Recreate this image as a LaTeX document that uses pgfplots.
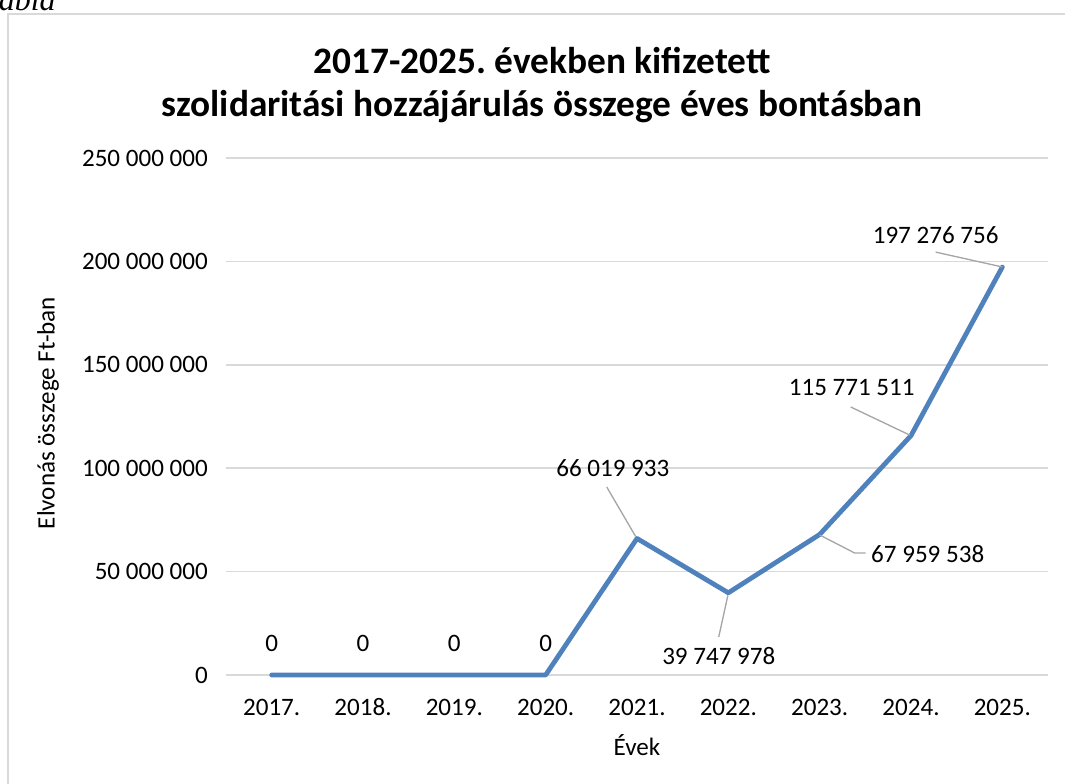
\documentclass[border=0pt]{standalone}
\usepackage{fontspec}
\setmainfont{Carlito}
\newfontfamily\serifit{Liberation Serif}
\usepackage{pgfplots}
\pgfplotsset{compat=1.18}
\definecolor{lineblue}{HTML}{4F81BD}
\definecolor{gridgray}{HTML}{D9D9D9}
\definecolor{leadergray}{HTML}{A6A6A6}
\newcommand\lbl{\fontsize{18.8}{22}\selectfont}
\frenchspacing
\begin{document}
\begin{tikzpicture}
\path[use as bounding box] (0,0) rectangle (798.75pt,-588pt);
\clip (0,0) rectangle (798.75pt,-588pt);
\begin{scope}[x=0.75pt,y=-0.75pt]
\draw[gridgray, line width=1.1pt] (8,14) rectangle (1085,800);
\node[anchor=base east, font=\serifit\itshape\fontsize{24}{28}\selectfont, inner sep=0] at (56,11) {tábla};
\node[anchor=base, font=\bfseries\fontsize{28}{33}\selectfont, inner sep=0] at (542,74) {2017-2025. években kifizetett};
\node[anchor=base, font=\bfseries\fontsize{28}{33}\selectfont, inner sep=0] at (542,117) {szolidaritási hozzájárulás összege éves bontásban};
\node[rotate=90, font=\lbl, inner sep=0] at (48,413) {Elvonás összege Ft-ban};
\node[font=\lbl, inner sep=0] at (637,745) {Évek};
\end{scope}
\begin{axis}[
  at={(169.5pt,-506.25pt)}, anchor=south west,
  scale only axis, width=616.5pt, height=387.75pt,
  xmin=-0.5, xmax=8.5, ymin=0, ymax=250000000,
  scaled y ticks=false,
  xtick={0,1,2,3,4,5,6,7,8},
  xticklabels={2017.,2018.,2019.,2020.,2021.,2022.,2023.,2024.,2025.},
  ytick={0,50000000,100000000,150000000,200000000,250000000},
  yticklabels={0,50 000 000,100 000 000,150 000 000,200 000 000,250 000 000},
  ymajorgrids, major grid style={gridgray, line width=1.1pt},
  axis line style={draw=none},
  major tick length=0pt, tick style={draw=none},
  ticklabel style={font=\lbl, inner sep=0pt},
  xticklabel style={anchor=base, yshift=-30pt},
  yticklabel style={anchor=east, xshift=-13.5pt},
  clip=false,
]
\addplot[lineblue, line width=3.6pt, line join=round, line cap=round] coordinates {
(0,0) (1,0) (2,0) (3,0) (4,66019933) (5,39747978) (6,67959538) (7,115771511) (8,197276756)};
% leader lines
\draw[leadergray, line width=1pt] (axis cs:3.985,67000000) -- (axis cs:3.669,90900000);
\draw[leadergray, line width=1pt] (axis cs:4.995,38500000) -- (axis cs:4.895,18400000);
\draw[leadergray, line width=1pt] (axis cs:6.0,67700000) -- (axis cs:6.383,59000000) -- (axis cs:6.503,59000000);
\draw[leadergray, line width=1pt] (axis cs:6.985,116050000) -- (axis cs:6.34,129600000);
\draw[leadergray, line width=1pt] (axis cs:8.0,197300000) -- (axis cs:7.27,204500000);
% data labels
\node[font=\lbl, inner sep=0] at (axis cs:0,15470000) {0};
\node[font=\lbl, inner sep=0] at (axis cs:1,15470000) {0};
\node[font=\lbl, inner sep=0] at (axis cs:2,15470000) {0};
\node[font=\lbl, inner sep=0] at (axis cs:3,15470000) {0};
\node[font=\lbl, inner sep=0] at (axis cs:3.735,100100000) {66 019 933};
\node[font=\lbl, inner sep=0] at (axis cs:4.895,9190000) {39 747 978};
\node[font=\lbl, inner sep=0] at (axis cs:7.183,58500000) {67 959 538};
\node[font=\lbl, inner sep=0] at (axis cs:6.351,138800000) {115 771 511};
\node[font=\lbl, inner sep=0] at (axis cs:7.27,212800000) {197 276 756};
\end{axis}
\end{tikzpicture}
\end{document}
